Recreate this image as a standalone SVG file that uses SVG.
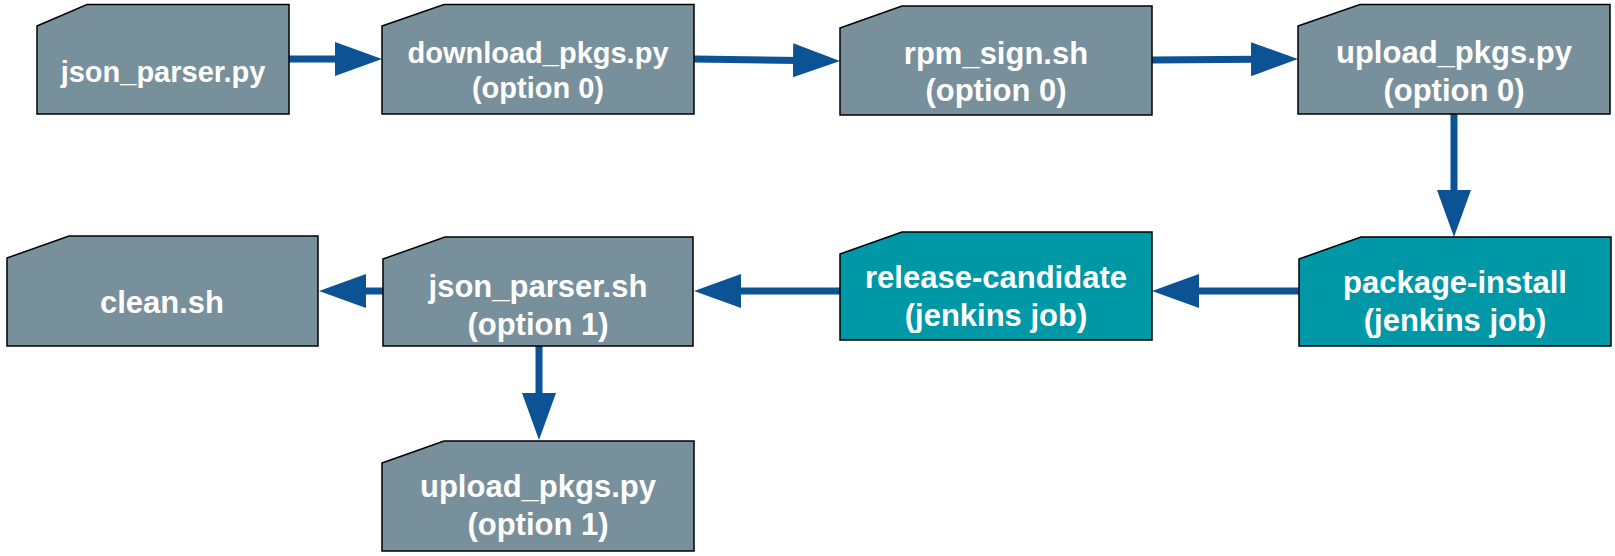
<svg xmlns="http://www.w3.org/2000/svg" width="1615" height="556" viewBox="0 0 1615 556">
<style>
.g{fill:#78909c;stroke:#000;stroke-width:1.5}
.t{fill:#0097a7;stroke:#000;stroke-width:1.5}
text{font-family:"Liberation Sans",Arial,sans-serif;font-weight:bold;fill:#fff;text-anchor:middle}
.s29{font-size:29px}
.s31{font-size:31px}
.c{fill:none;stroke:#0b5394;stroke-width:7}
</style>
<defs>
<marker id="ah" markerUnits="userSpaceOnUse" markerWidth="48" markerHeight="35" refX="5" refY="17" orient="auto">
<path d="M0,0 L47,17 L0,34 z" fill="#0b5394"/>
</marker>
</defs>
<g id="connectors">
<path class="c" d="M289,59 L340,59" marker-end="url(#ah)"/>
<path class="c" d="M694,59 L798,60.4" marker-end="url(#ah)"/>
<path class="c" d="M1152,60 L1256,59.3" marker-end="url(#ah)"/>
<path class="c" d="M1454,114 L1454,195" marker-end="url(#ah)"/>
<path class="c" d="M1299,291 L1194,291" marker-end="url(#ah)"/>
<path class="c" d="M840,291 L736,291" marker-end="url(#ah)"/>
<path class="c" d="M383,291 L361,291" marker-end="url(#ah)"/>
<path class="c" d="M539,346 L539,398" marker-end="url(#ah)"/>
</g>
<g id="n1">
<path class="g" d="M37,26 L87,4.5 L289,4.5 L289,114 L37,114 Z"/>
<text class="s29" x="163" y="82">json_parser.py</text>
</g>
<g id="n2">
<path class="g" d="M382,26 L444,4.5 L694,4.5 L694,114 L382,114 Z"/>
<text class="s29" x="538" y="63">download_pkgs.py</text>
<text class="s29" x="538" y="98">(option 0)</text>
</g>
<g id="n3">
<path class="g" d="M840,28 L902,6 L1152,6 L1152,115 L840,115 Z"/>
<text class="s31" x="996" y="64">rpm_sign.sh</text>
<text class="s31" x="996" y="101">(option 0)</text>
</g>
<g id="n4">
<path class="g" d="M1298,26 L1360,4.5 L1610,4.5 L1610,114 L1298,114 Z"/>
<text class="s31" x="1454" y="63">upload_pkgs.py</text>
<text class="s31" x="1454" y="101">(option 0)</text>
</g>
<g id="n5">
<path class="t" d="M1299,259 L1361,237 L1611,237 L1611,346 L1299,346 Z"/>
<text class="s31" x="1455" y="293">package-install</text>
<text class="s31" x="1455" y="331">(jenkins job)</text>
</g>
<g id="n6">
<path class="t" d="M840,254 L902,232 L1152,232 L1152,340 L840,340 Z"/>
<text class="s31" x="996" y="288">release-candidate</text>
<text class="s31" x="996" y="326">(jenkins job)</text>
</g>
<g id="n7">
<path class="g" d="M383,259 L445,237 L693,237 L693,346 L383,346 Z"/>
<text class="s31" x="538" y="297">json_parser.sh</text>
<text class="s31" x="538" y="335">(option 1)</text>
</g>
<g id="n8">
<path class="g" d="M7,258 L69,236 L318,236 L318,346 L7,346 Z"/>
<text class="s31" x="162" y="313">clean.sh</text>
</g>
<g id="n9">
<path class="g" d="M382,463 L444,441 L694,441 L694,551 L382,551 Z"/>
<text class="s31" x="538" y="497">upload_pkgs.py</text>
<text class="s31" x="538" y="535">(option 1)</text>
</g>
</svg>
